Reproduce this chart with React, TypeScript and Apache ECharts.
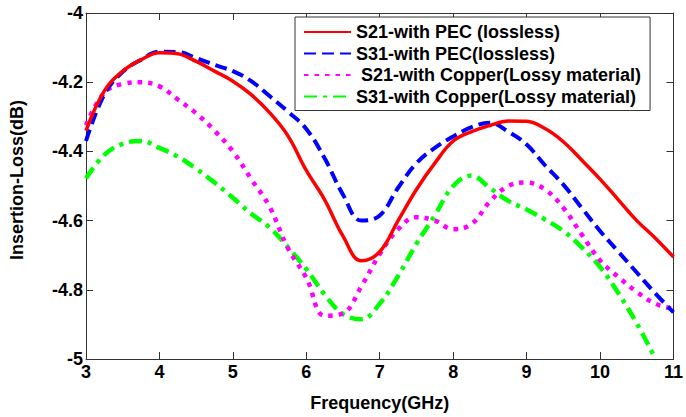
import React, { useEffect, useRef } from "react";
import * as echarts from "echarts";

const freq = [3, 3.25, 3.5, 3.75, 4, 4.25, 4.5, 4.75, 5, 5.25, 5.5, 5.75, 6, 6.25, 6.5, 6.75, 7, 7.25, 7.5, 7.75, 8, 8.25, 8.5, 8.75, 9, 9.25, 9.5, 9.75, 10, 10.25, 10.5, 10.75, 11];
const freqGreen = [3, 3.25, 3.5, 3.75, 4, 4.25, 4.5, 4.75, 5, 5.25, 5.5, 5.75, 6, 6.25, 6.5, 6.75, 7, 7.25, 7.5, 7.75, 8, 8.25, 8.5, 8.75, 9, 9.25, 9.5, 9.75, 10, 10.25, 10.5, 10.72];

const s21Pec = [-4.34, -4.225, -4.168, -4.135, -4.115, -4.118, -4.14, -4.168, -4.197, -4.236, -4.288, -4.355, -4.455, -4.54, -4.645, -4.716, -4.69, -4.6, -4.51, -4.434, -4.37, -4.343, -4.325, -4.312, -4.313, -4.334, -4.372, -4.425, -4.48, -4.54, -4.6, -4.65, -4.705];
const s31Pec = [-4.37, -4.235, -4.17, -4.135, -4.112, -4.113, -4.13, -4.15, -4.168, -4.197, -4.24, -4.285, -4.335, -4.42, -4.525, -4.6, -4.585, -4.505, -4.434, -4.39, -4.357, -4.33, -4.317, -4.343, -4.38, -4.44, -4.496, -4.563, -4.63, -4.69, -4.75, -4.81, -4.865];
const s21Cu = [-4.325, -4.23, -4.205, -4.2, -4.212, -4.25, -4.29, -4.34, -4.4, -4.48, -4.56, -4.68, -4.765, -4.875, -4.868, -4.79, -4.697, -4.625, -4.59, -4.6, -4.625, -4.61, -4.545, -4.5, -4.49, -4.51, -4.563, -4.64, -4.715, -4.763, -4.806, -4.84, -4.855];
const s31Cu = [-4.478, -4.41, -4.378, -4.37, -4.39, -4.415, -4.45, -4.49, -4.534, -4.58, -4.62, -4.677, -4.74, -4.814, -4.87, -4.885, -4.84, -4.76, -4.667, -4.585, -4.5, -4.47, -4.506, -4.543, -4.568, -4.597, -4.63, -4.677, -4.734, -4.81, -4.897, -4.985];

const seriesNames = [
  "S21-with PEC (lossless)",
  "S31-with PEC(lossless)",
  " S21-with Copper(Lossy material)",
  "S31-with Copper(Lossy material)",
];
const xTitle = "Frequency(GHz)";
const yTitle = "Insertion-Loss(dB)";

const pairs = (xs: number[], ys: number[]) => ys.map((y, i) => [xs[i], y]);

export default function App() {
  const ref = useRef<HTMLDivElement>(null);
  useEffect(() => {
    if (!ref.current) return;
    const chart = echarts.init(ref.current, undefined, { renderer: "svg" });
    const font = "'Liberation Sans', Arial, sans-serif";
    const axisCommon = {
      type: "value" as const,
      axisLine: { show: true, lineStyle: { color: "#333", width: 1 } },
      axisTick: { show: true, inside: true, length: 7, lineStyle: { color: "#333" } },
      splitLine: { show: false },
    };
    const lineBase = { type: "line", showSymbol: false, symbol: "none", smooth: 0.4 };
    chart.setOption({
      animation: false,
      backgroundColor: "#fff",
      grid: { left: 81, right: 7, top: 13, bottom: 54, containLabel: false },
      legend: {
        orient: "vertical",
        left: 295,
        top: 17,
        padding: [6, 9, 5, 8],
        itemGap: 3.5,
        itemWidth: 47,
        itemHeight: 14,
        itemStyle: { opacity: 0, color: "transparent", borderWidth: 0 },
        backgroundColor: "#fff",
        borderColor: "#333",
        borderWidth: 1,
        borderRadius: 0,
        textStyle: { fontFamily: font, fontWeight: "bold", fontSize: 18, color: "#000" },
        data: seriesNames,
      },
      xAxis: [
        {
          ...axisCommon,
          min: 3,
          max: 11,
          interval: 1,
          position: "bottom",
          name: xTitle,
          nameLocation: "middle",
          nameGap: 35,
          nameTextStyle: { fontFamily: font, fontWeight: "bold", fontSize: 18, color: "#000" },
          axisLabel: { fontFamily: font, fontWeight: "bold", fontSize: 18, color: "#000", margin: 4 },
        },
        {
          ...axisCommon,
          min: 3,
          max: 11,
          interval: 1,
          position: "top",
          axisLabel: { show: false },
        },
      ],
      yAxis: [
        {
          ...axisCommon,
          min: -5,
          max: -4,
          interval: 0.2,
          position: "left",
          name: yTitle,
          nameLocation: "middle",
          nameGap: 60,
          nameTextStyle: { fontFamily: font, fontWeight: "bold", fontSize: 18, color: "#000", padding: [0, 0, 0, 12] },
          axisLabel: {
            fontFamily: font,
            fontWeight: "bold",
            fontSize: 18,
            color: "#000",
            margin: 3,
            formatter: (v: number) => String(Math.round(v * 10) / 10),
          },
        },
        {
          ...axisCommon,
          min: -5,
          max: -4,
          interval: 0.2,
          position: "right",
          axisLabel: { show: false },
        },
      ],
      series: [
        {
          ...lineBase,
          name: seriesNames[0],
          data: pairs(freq, s21Pec),
          lineStyle: { color: "#ff0000", width: 3.5, type: "solid" },
          itemStyle: { color: "#ff0000" },
          z: 5,
        },
        {
          ...lineBase,
          name: seriesNames[1],
          data: pairs(freq, s31Pec),
          lineStyle: { color: "#0000ff", width: 4, type: [12, 6] },
          itemStyle: { color: "#0000ff" },
          z: 4,
        },
        {
          ...lineBase,
          name: seriesNames[2],
          data: pairs(freq, s21Cu),
          lineStyle: { color: "#ff00ff", width: 4.5, type: [4.5, 6] },
          itemStyle: { color: "#ff00ff" },
          z: 3,
        },
        {
          ...lineBase,
          name: seriesNames[3],
          data: pairs(freqGreen, s31Cu),
          lineStyle: { color: "#00ff00", width: 4.5, type: [13, 6, 4, 6] },
          itemStyle: { color: "#00ff00" },
          z: 2,
        },
      ],
    });
    return () => chart.dispose();
  }, []);
  return <div ref={ref} style={{ width: 686, height: 417, position: "absolute", left: 0, top: 0 }} />;
}
